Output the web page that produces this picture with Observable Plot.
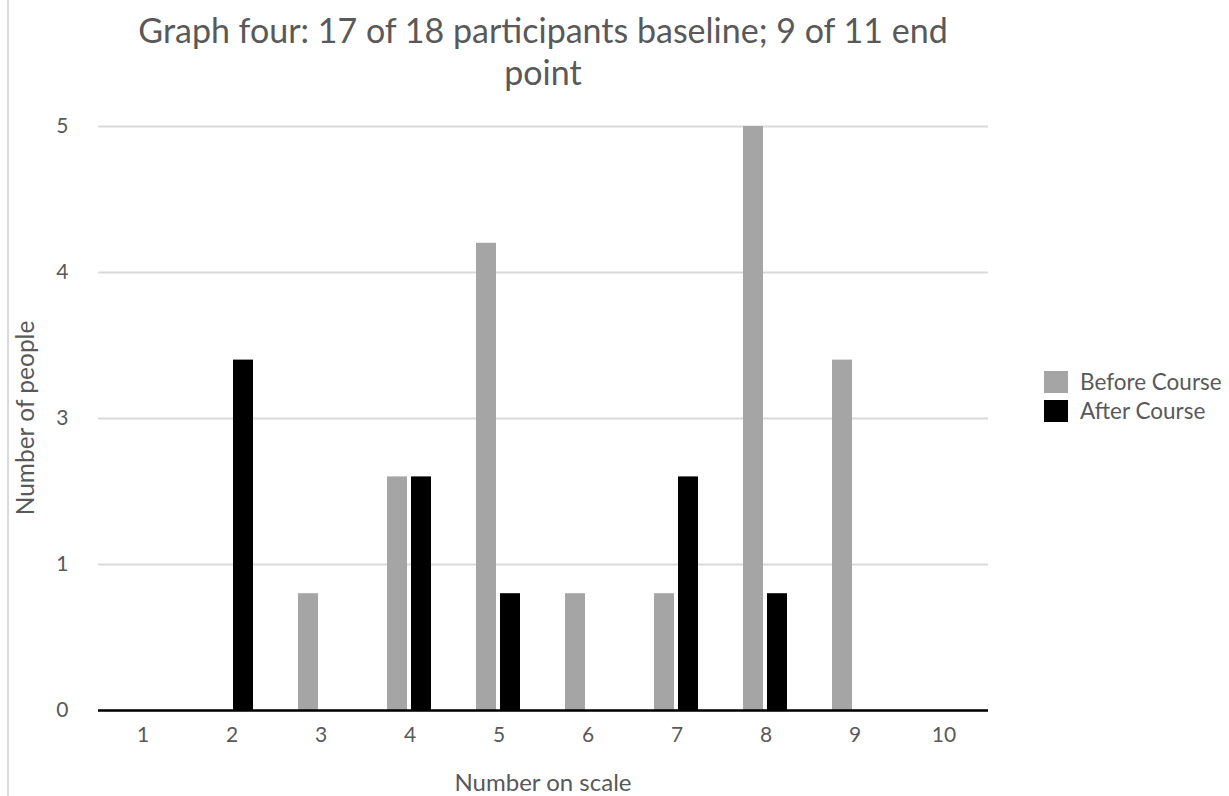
<!DOCTYPE html>
<html>
<head>
<meta charset="utf-8">
<script src="https://cdn.jsdelivr.net/npm/d3@7"></script>
<script src="https://cdn.jsdelivr.net/npm/@observablehq/plot@0.6"></script>
<style>
  body { margin: 0; background: #fff; font-family: Lato, "Open Sans", sans-serif; }
  #wrap { position: relative; width: 1229px; height: 796px; overflow: hidden; background: #fff; }
  #border { position: absolute; left: 7px; top: 0; width: 2px; height: 796px; background: #d9d9d9; }
  #title { width: 1086px; padding-top: 9px; height: 81px; overflow: visible; text-align: center; font-size: 34px; line-height: 42px; color: #595959; }
  #ylabel { position: absolute; left: 24px; top: 418px; transform: translate(-50%, -50%) rotate(-90deg); white-space: nowrap; font-size: 24.5px; color: #595959; }
  #xlabel { position: absolute; left: 543px; top: 781px; transform: translate(-50%, -50%); white-space: nowrap; font-size: 24px; color: #595959; }
  #legend { position: absolute; left: 1044px; top: 367px; font-size: 22.5px; color: #595959; }
  .item { display: flex; align-items: center; height: 29px; }
  .sw { width: 24px; height: 22px; margin-right: 12px; }
</style>
</head>
<body>
<div id="wrap">
  <div id="border"></div>
  <div id="title">Graph four: 17 of 18 participants baseline; 9 of 11 end<br>point</div>
  <div id="chart"></div>
  <div id="ylabel">Number of people</div>
  <div id="xlabel">Number on scale</div>
  <div id="legend"></div>
</div>
<script>
const scaleLabels = ["1", "2", "3", "4", "5", "6", "7", "8", "9", "10"];
const seriesNames = ["Before Course", "After Course"];
const beforeCounts = [0, 0, 1, 2, 4, 1, 1, 5, 3, 0];
const afterCounts = [0, 3, 0, 2, 1, 0, 2, 1, 0, 0];
const yTicks = [0, 1.25, 2.5, 3.75, 5];
const yTickLabels = ["0", "1", "3", "4", "5"];
const seriesColors = ["#a5a5a5", "#000000"];

const rows = [];
scaleLabels.forEach((s, i) => {
  rows.push({scale: s, series: seriesNames[0], count: beforeCounts[i]});
  rows.push({scale: s, series: seriesNames[1], count: afterCounts[i]});
});

const chart = Plot.plot({
  width: 1229,
  height: 706,
  marginLeft: 97,
  marginRight: 241,
  marginTop: 36,
  marginBottom: 86,
  style: {fontFamily: "Lato, 'Open Sans', sans-serif", fontSize: "21px", color: "#595959", background: "transparent"},
  fx: {domain: scaleLabels, padding: 0, label: null, tickSize: 0, tickPadding: 17},
  x: {domain: seriesNames, paddingInner: 0.16, paddingOuter: 0.862, axis: null},
  y: {domain: [0, 5], ticks: yTicks, tickFormat: d => yTickLabels[yTicks.indexOf(d)], tickSize: 0, tickPadding: 30, label: null},
  color: {domain: seriesNames, range: seriesColors},
  marks: [
    Plot.gridY(yTicks, {stroke: "#d9d9d9", strokeOpacity: 1, strokeWidth: 2}),
    Plot.barY(rows, {fx: "scale", x: "series", y: "count", fill: "series"}),
    Plot.ruleY([0], {stroke: "#000", strokeWidth: 2.5})
  ]
});
document.getElementById("chart").appendChild(chart);

const legend = document.getElementById("legend");
seriesNames.forEach((name, i) => {
  const item = document.createElement("div");
  item.className = "item";
  const sw = document.createElement("span");
  sw.className = "sw";
  sw.style.background = seriesColors[i];
  const label = document.createElement("span");
  label.textContent = name;
  item.appendChild(sw);
  item.appendChild(label);
  legend.appendChild(item);
});
</script>
</body>
</html>
